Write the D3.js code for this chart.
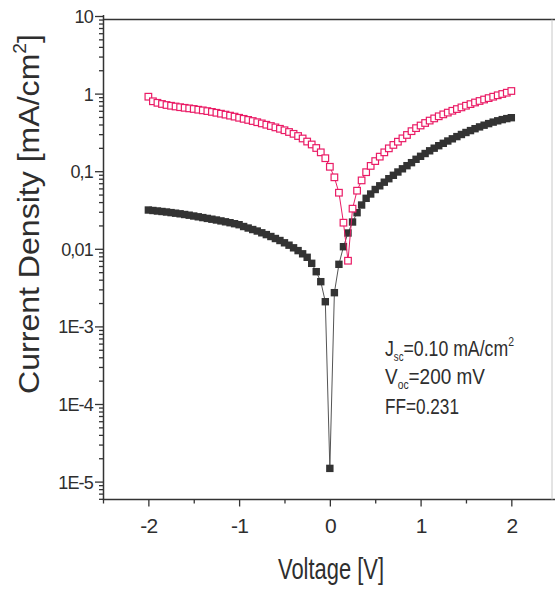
<!DOCTYPE html>
<html>
<head>
<meta charset="utf-8">
<title></title>
<style>
  body { margin: 0; background: #fff; }
  svg text { font-family: "Liberation Sans", Arial, sans-serif; fill: #2e2e2e; }
</style>
</head>
<body>
<svg id="chart" width="555" height="592"></svg>

<script src="https://cdn.jsdelivr.net/npm/d3@7/dist/d3.min.js"></script>
<script>
var voltage = [-2, -1.95, -1.9, -1.85, -1.8, -1.75, -1.7, -1.65, -1.6, -1.55,
  -1.5, -1.45, -1.4, -1.35, -1.3, -1.25, -1.2, -1.15, -1.1, -1.05,
  -1, -0.95, -0.9, -0.85, -0.8, -0.75, -0.7, -0.65, -0.6, -0.55,
  -0.5, -0.45, -0.4, -0.35, -0.3, -0.25, -0.2, -0.15, -0.1, -0.05,
  0,
  0.05, 0.1, 0.15, 0.2, 0.25, 0.3, 0.35, 0.4, 0.45, 0.5,
  0.55, 0.6, 0.65, 0.7, 0.75, 0.8, 0.85, 0.9, 0.95, 1,
  1.05, 1.1, 1.15, 1.2, 1.25, 1.3, 1.35, 1.4, 1.45, 1.5,
  1.55, 1.6, 1.65, 1.7, 1.75, 1.8, 1.85, 1.9, 1.95, 2]

// dark (black filled squares)
var darkJ = [0.0316, 0.03116, 0.0307, 0.03025, 0.0298, 0.02927, 0.02876, 0.02825, 0.02767, 0.0271,
  0.02646, 0.02584, 0.02524, 0.02464, 0.02406, 0.0235, 0.02288, 0.02228, 0.02169, 0.02106,
  0.02044, 0.01937, 0.01852, 0.01771, 0.01694, 0.01608, 0.01524, 0.0144, 0.01357, 0.01279,
  0.01195, 0.01113, 0.0103, 0.00948, 0.00862, 0.00777, 0.0065, 0.00507, 0.00377, 0.00208,
  1.48e-5,
  0.00272, 0.00631, 0.01064, 0.01598, 0.02215, 0.0292, 0.03667, 0.04473, 0.05083, 0.05809,
  0.06483, 0.07214, 0.08004, 0.08855, 0.09766, 0.1074, 0.1178, 0.1288, 0.1424, 0.1556,
  0.169, 0.1832, 0.1979, 0.2131, 0.2288, 0.245, 0.2615, 0.2792, 0.2972, 0.3154,
  0.3337, 0.353, 0.3723, 0.3915, 0.4105, 0.4292, 0.4461, 0.4622, 0.4762, 0.4891]

// illuminated (pink open squares)
var lightJ = [0.912, 0.796, 0.761, 0.735, 0.713, 0.697, 0.682, 0.668, 0.656, 0.645,
  0.634, 0.62, 0.608, 0.595, 0.581, 0.566, 0.551, 0.536, 0.52, 0.505,
  0.488, 0.473, 0.458, 0.443, 0.428, 0.413, 0.397, 0.382, 0.367, 0.352,
  0.337, 0.32, 0.303, 0.284, 0.264, 0.241, 0.221, 0.199, 0.175, 0.147,
  0.114,
  0.0834, 0.0528, 0.0217, 0.00702, 0.0329, 0.0561, 0.0761, 0.0971, 0.117, 0.135,
  0.154, 0.175, 0.197, 0.218, 0.24, 0.265, 0.293, 0.328, 0.359, 0.388,
  0.418, 0.449, 0.479, 0.51, 0.54, 0.569, 0.601, 0.632, 0.664, 0.698,
  0.732, 0.768, 0.803, 0.839, 0.875, 0.912, 0.951, 0.988, 1.027, 1.08]

var xTicks = [-2, -1, 0, 1, 2]
var xMinorTicks = [-2.5, -1.5, -0.5, 0.5, 1.5, 2.5]
var yTicks = [10, 1, 0.1, 0.01, 1e-3, 1e-4, 1e-5]
var yTickLabels = ['10', '1', '0,1', '0,01', '1E-3', '1E-4', '1E-5']

var pink = '#ea1c66'
var ink = '#333'

var svg = d3.select('#chart')

var x = d3.scaleLinear()
  .domain([-2.5, 2.5])
  .range([103, 556.7])

var y = d3.scaleLog()
  .domain([1e-5, 10])
  .range([481.6, 16])

var x0 = 103.5, yBottom = 499.5

// y axis: majors with labels, minors from the log scale
var yAxisScale = y.copy().domain([y.invert(yBottom), 10]).range([yBottom, 16])
var yMinor = yAxisScale.ticks().filter(function(d) {
  var l = Math.log10(d)
  return Math.abs(l - Math.round(l)) > 1e-6
})

svg.append('g')
  .attr('transform', 'translate(' + x0 + ',0)')
  .call(d3.axisLeft(y).tickValues(yMinor).tickSize(4.5).tickFormat(''))
svg.append('g')
  .attr('class', 'ymajor')
  .attr('transform', 'translate(' + x0 + ',0)')
  .call(d3.axisLeft(y).tickValues(yTicks).tickSize(8.5).tickPadding(2)
    .tickFormat(function(d, i) { return yTickLabels[i] }))

svg.append('g')
  .attr('transform', 'translate(0,' + yBottom + ')')
  .call(d3.axisBottom(x).tickValues(xMinorTicks).tickSize(4).tickFormat(''))
svg.append('g')
  .attr('class', 'xmajor')
  .attr('transform', 'translate(0,' + yBottom + ')')
  .call(d3.axisBottom(x).tickValues(xTicks).tickSize(7).tickPadding(12)
    .tickFormat(function(d) { return d < 0 ? '-' + Math.abs(d) : String(d) }))

svg.selectAll('.domain').remove()
svg.selectAll('.tick line').attr('stroke', ink).attr('stroke-width', 1.3)
svg.selectAll('.ymajor text').attr('font-size', 18).attr('dy', '0.36em')
svg.selectAll('.xmajor text').attr('font-size', 21).attr('dy', '0.71em')
svg.selectAll('.tick text').attr('font-family', null).style('letter-spacing', '-0.8px')

// frame
svg.append('line').attr('x1', x0).attr('x2', x0).attr('y1', 15).attr('y2', yBottom)
  .attr('stroke', ink).attr('stroke-width', 1.5)
svg.append('line').attr('x1', x0 - 0.7).attr('x2', 555).attr('y1', yBottom).attr('y2', yBottom)
  .attr('stroke', ink).attr('stroke-width', 1.5)
svg.append('line').attr('x1', x0).attr('x2', 555).attr('y1', 19.5).attr('y2', 19.5)
  .attr('stroke', ink).attr('stroke-width', 1.3)
svg.append('line').attr('x1', 552).attr('x2', 552).attr('y1', 19.5).attr('y2', yBottom)
  .attr('stroke', '#c8c8c8').attr('stroke-width', 1)

var dark = voltage.map(function(v, i) { return { v: v, j: darkJ[i] } })
var light = voltage.map(function(v, i) { return { v: v, j: lightJ[i] } })

var line = d3.line()
  .x(function(d) { return x(d.v) })
  .y(function(d) { return y(d.j) })

svg.append('path').datum(dark)
  .attr('d', line).attr('fill', 'none').attr('stroke', '#555').attr('stroke-width', 1)
svg.selectAll('.dark').data(dark).enter()
  .append('rect').attr('class', 'dark')
  .attr('x', function(d) { return x(d.v) - 3.7 })
  .attr('y', function(d) { return y(d.j) - 3.7 })
  .attr('width', 7.4).attr('height', 7.4)
  .attr('fill', '#333')

svg.append('path').datum(light)
  .attr('d', line).attr('fill', 'none').attr('stroke', pink).attr('stroke-width', 1)
svg.selectAll('.light').data(light).enter()
  .append('rect').attr('class', 'light')
  .attr('x', function(d) { return x(d.v) - 3.3 })
  .attr('y', function(d) { return y(d.j) - 3.3 })
  .attr('width', 6.6).attr('height', 6.6)
  .attr('fill', '#fff').attr('stroke', pink).attr('stroke-width', 1.2)

// squeeze a text to the width it has in the picture
function fit(sel, target, tf) {
  var w = sel.node().getComputedTextLength()
  sel.attr('transform', tf + ' scale(' + (target / w) + ',1)')
}

var xt = svg.append('text').attr('text-anchor', 'middle').attr('font-size', 30).text('Voltage [V]')
fit(xt, 106, 'translate(331,579)')

var yt = svg.append('text').attr('text-anchor', 'middle').attr('font-size', 30)
yt.append('tspan').text('Current Density [mA/cm')
yt.append('tspan').attr('font-size', 18).attr('dy', -13).text('2')
yt.append('tspan').attr('dy', 13).text(']')
fit(yt, 360, 'translate(39,214) rotate(-90)')

// J-V parameters
var a1 = svg.append('text').attr('font-size', 22)
a1.append('tspan').text('J')
a1.append('tspan').attr('font-size', 12).attr('dy', 5).text('sc')
a1.append('tspan').attr('dy', -5).text('=0.10 mA/cm')
a1.append('tspan').attr('font-size', 13).attr('dy', -10).text('2')
fit(a1, 129, 'translate(385,356)')

var a2 = svg.append('text').attr('font-size', 22)
a2.append('tspan').text('V')
a2.append('tspan').attr('font-size', 12).attr('dy', 5).text('oc')
a2.append('tspan').attr('dy', -5).text('=200 mV')
fit(a2, 100, 'translate(385,384)')

var a3 = svg.append('text').attr('font-size', 22).text('FF=0.231')
fit(a3, 74, 'translate(385,414)')
</script>
</body>
</html>
